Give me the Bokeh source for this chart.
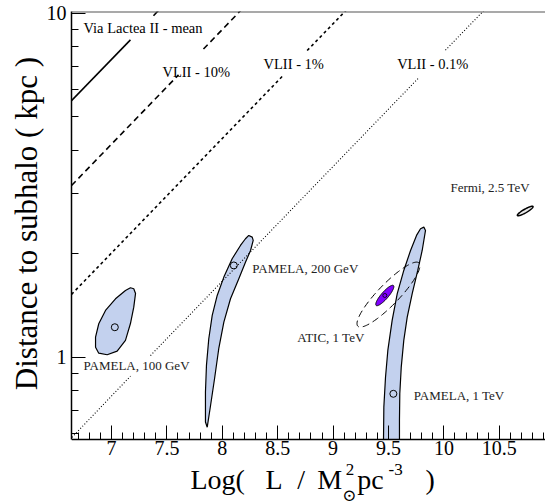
import numpy as np
from bokeh.plotting import figure
from bokeh.models import Range1d, FixedTicker, Label, Span, CustomJSTickFormatter
from bokeh.embed import file_html
from bokeh.resources import INLINE

# ---------------- data ----------------
x_major = [7, 7.5, 8, 8.5, 9, 9.5, 10, 10.5]
x_minor = [round(6.7 + 0.1 * i, 1) for i in range(43)]
y_major = [1, 10]
y_minor = [0.6, 0.7, 0.8, 0.9, 2, 3, 4, 5, 6, 7, 8, 9]
y_axis_min = 0.5774

# PAMELA 100 GeV contour
p100_x = [7.201, 7.217, 7.201, 7.171, 7.126, 7.051, 6.961, 6.885, 6.856, 6.856, 6.885, 6.946, 7.036, 7.126, 7.171]
p100_y = [1.584, 1.535, 1.400, 1.255, 1.121, 1.043, 1.018, 1.029, 1.071, 1.146, 1.253, 1.370, 1.481, 1.566, 1.594]
# PAMELA 200 GeV contour
p200_x = [8.239, 8.270, 8.279, 8.255, 8.209, 8.149, 8.074, 8.014, 7.968, 7.930, 7.894, 7.864,
          7.848, 7.848, 7.857, 7.878, 7.909, 7.954, 8.014, 8.089, 8.164, 8.209]
p200_y = [2.263, 2.237, 2.189, 2.046, 1.892, 1.694, 1.481, 1.266, 1.060, 0.867, 0.725, 0.627,
          0.649, 0.793, 0.948, 1.133, 1.325, 1.514, 1.712, 1.936, 2.116, 2.213]
# PAMELA 1 TeV contour (visible part, down to the x axis)
p1t_x = [9.819, 9.834, 9.804, 9.764, 9.714, 9.669, 9.638, 9.615, 9.602, 9.599, 9.599,
         9.455, 9.458, 9.473, 9.494, 9.533, 9.579, 9.638, 9.699, 9.753, 9.789]
p1t_y = [2.392, 2.340, 2.046, 1.790, 1.532, 1.310, 1.121, 0.937, 0.784, 0.656, 0.5774,
         0.5774, 0.717, 0.876, 1.048, 1.281, 1.532, 1.790, 2.046, 2.263, 2.366]

# best-fit markers
mark_x = [7.030, 8.104, 9.544]
mark_y = [1.224, 1.851, 0.784]
atic_mark_x = [9.467]
atic_mark_y = [1.514]

# ellipses: centre x, centre y, major half-vector (dx, dlog10y), minor half-vector (dx, dlog10y)
atic_outer = [9.500, 1.523, 0.276, 0.092, -0.068, 0.0212]
atic_inner = [9.4666, 1.514, 0.0782, 0.02895, -0.0238, 0.00668]
fermi_ell = [10.7338, 2.665, 0.0703, 0.01308, -0.0081, 0.00453]

# Via Lactea II lines (segments, broken at the labels)
mean_x = [[6.639, 7.171], [7.379, 7.43]]
mean_y = [[5.58, 8.38], [9.85, 10.25]]
vl10_x = [[6.639, 7.605], [7.83, 8.20]]
vl10_y = [[3.16, 6.63], [7.88, 10.47]]
vl1_x = [[6.639, 8.543], [8.766, 9.14]]
vl1_y = [[1.525, 6.57], [7.80, 10.39]]
vl01_x = [[6.625, 7.171], [7.352, 9.771], [10.014, 10.38]]
vl01_y = [[0.5774, 0.882], [1.013, 6.49], [7.82, 10.35]]

big_labels = ["Via Lactea II - mean", "VLII - 10%", "VLII - 1%", "VLII - 0.1%"]
big_lx = [6.747, 7.46, 8.372, 9.578]
big_ly = [9.05, 6.74, 7.15, 7.15]
small_labels = ["Fermi, 2.5 TeV", "PAMELA, 200 GeV", "ATIC, 1 TeV", "PAMELA, 100 GeV", "PAMELA, 1 TeV"]
small_lx = [10.06, 8.27, 8.676, 6.747, 9.728]
small_ly = [3.12, 1.815, 1.139, 0.945, 0.775]

SERIF = "Liberation Serif"


def ellipse(par, n=120):
    cx, cy, ux, uly, vx, vly = par
    t = np.linspace(0, 2 * np.pi, n)
    xs = cx + ux * np.cos(t) + vx * np.sin(t)
    ly = np.log10(cy) + uly * np.cos(t) + vly * np.sin(t)
    return list(xs), list(10 ** ly)


# the frame runs to the bottom of the page; the x axis sits at y_axis_min
p = figure(width=545, height=504,
           x_range=Range1d(6.639, 10.917), y_range=Range1d(0.3737, 10.13),
           y_axis_type="log", output_backend="svg", toolbar_location=None,
           min_border_left=71, min_border_right=0, min_border_top=11, min_border_bottom=0)
p.xgrid.visible = False
p.ygrid.visible = False
p.outline_line_color = None
p.background_fill_color = "white"
p.border_fill_color = "white"

fill = "#c3d1ee"
for xs, ys in [(p100_x, p100_y), (p200_x, p200_y), (p1t_x, p1t_y)]:
    p.patch(xs, ys, fill_color=fill, line_color="black", line_width=1.2)

ex, ey = ellipse(atic_inner)
p.patch(ex, ey, fill_color="#7f00ff", line_color="black", line_width=1)
ex, ey = ellipse(atic_outer)
p.line(ex, ey, line_color="black", line_width=1, line_dash="7 4")
ex, ey = ellipse(fermi_ell)
p.patch(ex, ey, fill_color="#e8e8e8", line_color="black", line_width=1.5)

p.multi_line(mean_x, mean_y, line_color="black", line_width=1.6)
p.multi_line(vl10_x, vl10_y, line_color="black", line_width=1.6, line_dash="6 4")
p.multi_line(vl1_x, vl1_y, line_color="black", line_width=1.6, line_dash="3 3")
p.multi_line(vl01_x, vl01_y, line_color="black", line_width=1.1, line_dash="1 2")

p.scatter(mark_x, mark_y, size=7, marker="circle", fill_color=None, line_color="black", line_width=1)
p.scatter(atic_mark_x, atic_mark_y, size=4, marker="circle", fill_color=None, line_color="black", line_width=0.8)

p.add_layout(Span(location=10.13, dimension="width", line_color="#555555", line_width=2))

for ax in (p.xaxis[0], p.yaxis[0]):
    ax.major_tick_in = 14
    ax.major_tick_out = 0
    ax.minor_tick_in = 7
    ax.minor_tick_out = 0
    ax.axis_line_width = 1.5
    ax.axis_line_color = "black"
    ax.major_tick_line_color = "black"
    ax.minor_tick_line_color = "black"
    ax.major_label_text_font = SERIF
    ax.major_label_text_font_size = "20px"
    ax.major_label_text_color = "black"
    ax.formatter = CustomJSTickFormatter(code="return String(tick);")
p.xaxis.ticker = FixedTicker(ticks=x_major, minor_ticks=x_minor)
p.yaxis.ticker = FixedTicker(ticks=y_major, minor_ticks=y_minor)
p.xaxis.fixed_location = y_axis_min
p.yaxis.bounds = (y_axis_min, 10.13)
p.xaxis.major_label_standoff = 2
p.yaxis.major_label_standoff = 5

for t, x, y in zip(big_labels, big_lx, big_ly):
    p.add_layout(Label(x=x, y=y, text=t, text_font=SERIF, text_font_size="14.5px",
                       text_baseline="middle", text_align="left", text_color="black"))
for t, x, y in zip(small_labels, small_lx, small_ly):
    p.add_layout(Label(x=x, y=y, text=t, text_font=SERIF, text_font_size="13px",
                       text_baseline="middle", text_align="left", text_color="#222222"))

# y axis title (in the side panel so it is not clipped to the frame)
p.add_layout(Label(x=6.236, y=2.45, text="Distance to subhalo ( kpc )", angle=np.pi / 2,
                   text_font=SERIF, text_font_size="31px", text_align="center",
                   text_baseline="alphabetic", text_color="black"), "left")

# x axis title pieces
pieces = [("Log(", 7.713, 0.4416, "28px", "alphabetic", "left"),
          ("L", 8.390, 0.4416, "28px", "alphabetic", "left"),
          ("/", 8.676, 0.4416, "28px", "alphabetic", "left"),
          ("M", 8.857, 0.4416, "28px", "alphabetic", "left"),
          ("2", 9.115, 0.472, "17px", "alphabetic", "left"),
          ("\u2299", 9.148, 0.3995, "17px", "middle", "center"),
          ("pc", 9.2175, 0.4416, "28px", "alphabetic", "left"),
          ("-3", 9.500, 0.472, "17px", "alphabetic", "left"),
          (")", 9.834, 0.4416, "28px", "alphabetic", "left")]
for t, x, y, fs, bl, al in pieces:
    p.add_layout(Label(x=x, y=y, text=t, text_font=SERIF if t != "\u2299" else "DejaVu Serif",
                       text_font_size=fs, text_baseline=bl, text_align=al, text_color="black"))

open("out.html", "w").write(file_html(p, INLINE))
